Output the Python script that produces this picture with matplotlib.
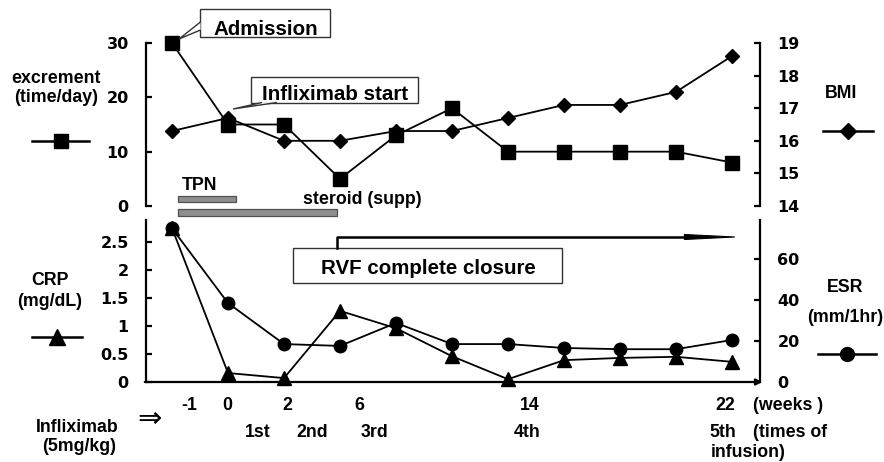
import matplotlib
matplotlib.use('Agg')
import matplotlib.pyplot as plt
from matplotlib.lines import Line2D
from matplotlib.patches import Rectangle, Polygon
import matplotlib.transforms as mtrans

plt.rcParams['font.family'] = ['Liberation Sans', 'DejaVu Sans']
plt.rcParams['font.weight'] = 'bold'

# ---------------- data ----------------
visits = list(range(11))
excrement = [30, 15, 15, 5, 13, 18, 10, 10, 10, 10, 8]
bmi = [16.3, 16.7, 16.0, 16.0, 16.3, 16.3, 16.7, 17.1, 17.1, 17.5, 18.6]
crp = [2.75, 0.16, 0.07, 1.27, 0.96, 0.46, 0.05, 0.39, 0.43, 0.45, 0.36]
esr = [75, 38.5, 18.5, 17.6, 28.8, 18.5, 18.5, 16.6, 16, 16, 20.5]
tpn_span = (0.1, 1.15)
steroid_span = (0.1, 2.95)
rvf_span = (2.95, 10.05)
exc_ticks = [0, 10, 20, 30]
bmi_ticks = [14, 15, 16, 17, 18, 19]
crp_ticks = [0, 0.5, 1, 1.5, 2, 2.5]
crp_ticklabels = ['0', '0.5', '1', '1.5', '2', '2.5']
esr_ticks = [0, 20, 40, 60]
week_labels = ['-1', '0', '2', '6', '14', '22']
infusion_labels = ['1st', '2nd', '3rd', '4th', '5th']

W, H = 884, 462
fig = plt.figure(figsize=(W / 100, H / 100), dpi=100)
pix = mtrans.Affine2D().scale(1 / W, -1 / H).translate(0, 1) + fig.transFigure

def ax_rect(l, t, r, b):
    return [l / W, 1 - b / H, (r - l) / W, (b - t) / H]

xlim = ((146 - 172) / 56, (760 - 172) / 56)
LW_AX = 1.6
TICKFS = 11.5

def style(ax, side):
    for s in ['top', 'bottom', 'left', 'right']:
        ax.spines[s].set_visible(False)
    ax.spines[side].set_visible(True)
    ax.spines[side].set_linewidth(LW_AX)
    ax.tick_params(axis='y', direction='in', length=4.5, width=LW_AX, pad=12.5,
                   labelsize=TICKFS)
    ax.tick_params(axis='x', bottom=False, labelbottom=False)

def fix_ticklabels(ax):
    for lab in ax.get_yticklabels():
        lab.set_fontweight('bold')
        lab.set_family(['DejaVu Sans'])

# ---------------- top panel ----------------
ax1 = fig.add_axes(ax_rect(146, 43, 760, 206))
ax1r = ax1.twinx()
ax1.set_xlim(*xlim)
ax1.set_ylim(0, 30)
ax1r.set_ylim(14, 19)
ax1.set_yticks(exc_ticks)
ax1r.set_yticks(bmi_ticks)
style(ax1, 'left')
style(ax1r, 'right')
fix_ticklabels(ax1)
fix_ticklabels(ax1r)
ax1.patch.set_visible(False)
ax1r.plot(visits, bmi, color='black', lw=1.3, marker='D', ms=7, mfc='black',
          mec='black', zorder=3, clip_on=False)
ax1.plot(visits, excrement, color='black', lw=1.3, marker='s', ms=9.5,
         mfc='black', mec='black', zorder=4, clip_on=False)
ax1.set_zorder(ax1r.get_zorder() + 1)

# ---------------- bottom panel ----------------
ax2 = fig.add_axes(ax_rect(146, 220, 760, 382))
ax2r = ax2.twinx()
ax2.set_xlim(*xlim)
ax2.set_ylim(0, (382 - 220) / 56)
ax2r.set_ylim(0, (382 - 220) / 2.05)
ax2.set_yticks(crp_ticks)
ax2.set_yticklabels(crp_ticklabels)
ax2r.set_yticks(esr_ticks)
style(ax2, 'left')
style(ax2r, 'right')
fix_ticklabels(ax2)
fix_ticklabels(ax2r)
ax2.patch.set_visible(False)
ax2r.plot(visits, esr, color='black', lw=1.3, marker='o', ms=9, mfc='black',
          mec='black', zorder=3, clip_on=False)
ax2.plot(visits, crp, color='black', lw=1.3, marker='^', ms=10.5, mfc='black',
         mec='black', zorder=4, clip_on=False)
ax2.set_zorder(ax2r.get_zorder() + 1)
# x axis with arrow
ax2.annotate('', xy=(1.004, 0), xytext=(-0.002, 0), xycoords='axes fraction',
             arrowprops=dict(arrowstyle='-|>', lw=LW_AX, color='black',
                             mutation_scale=9, shrinkA=0, shrinkB=0))

# ---------------- therapy bars ----------------
bt = mtrans.blended_transform_factory(ax1.transData, pix)
for span, (y0, y1) in [(tpn_span, (196, 202)), (steroid_span, (209, 216))]:
    r = Rectangle((span[0], y0), span[1] - span[0], y1 - y0, transform=bt,
                  facecolor='#8e8e8e', edgecolor='#505050', lw=0.9, clip_on=False)
    fig.add_artist(r)

LFS = 12.8
def t(x, y, s, ha='center', fs=LFS, **kw):
    fig.text(x, y, s, transform=pix, fontsize=fs, fontweight='bold', ha=ha,
             va='baseline', **kw)

t(182, 190, 'TPN', ha='left')
t(303, 204, 'steroid (supp)', ha='left')

# ---------------- RVF bracket ----------------
bt2 = mtrans.blended_transform_factory(ax2.transData, pix)
fig.add_artist(Line2D([rvf_span[0], rvf_span[0], rvf_span[1] - 0.8],
                      [248, 237, 237], transform=bt2, color='black', lw=1.8))
fig.add_artist(Polygon([[rvf_span[1] - 0.9, 234.5], [rvf_span[1], 237],
                        [rvf_span[1] - 0.9, 239.5]], closed=True, transform=bt2,
                       facecolor='black', edgecolor='black', lw=0.8))
fig.add_artist(Rectangle((293, 248), 269, 35, transform=pix, facecolor='white',
                         edgecolor='#333333', lw=1.0))
t(428, 274, 'RVF complete closure', fs=14.8)

# ---------------- callouts ----------------
fig.add_artist(Rectangle((200, 9), 130, 28, transform=pix, facecolor='white',
                         edgecolor='#333333', lw=1.0, zorder=5))
fig.add_artist(Polygon([[200.5, 22], [179, 39], [200.5, 30]], closed=False,
                       transform=pix, facecolor='white', edgecolor='#333333',
                       lw=1.0, zorder=6))
t(266, 35, 'Admission', fs=14.8, zorder=7)

fig.add_artist(Rectangle((251, 77), 167, 26, transform=pix, facecolor='white',
                         edgecolor='#333333', lw=1.0, zorder=5))
fig.add_artist(Polygon([[262, 102.5], [233, 109], [277, 102.5]], closed=False,
                       transform=pix, facecolor='white', edgecolor='#333333',
                       lw=1.0, zorder=6))
t(335, 100, 'Infliximab start', fs=14.8, zorder=7)

# ---------------- axis titles & legend samples ----------------
t(56, 83, 'excrement')
t(56, 102, '(time/day)')
t(841, 98, 'BMI')
t(50, 285, 'CRP')
t(50, 306, '(mg/dL)')
t(845, 292, 'ESR')
t(845, 322, '(mm/1hr)')
t(77, 432, 'Infliximab')
t(79, 451, '(5mg/kg)')
fig.text(150, 419, '\u21d2', transform=pix, fontsize=21, ha='center',
         va='center', family=['DejaVu Sans'], fontweight='normal')

def sample(x0, x1, y, marker, ms):
    fig.add_artist(Line2D([x0, (x0 + x1) / 2, x1], [y, y, y], transform=pix,
                          color='black', lw=1.8, marker=marker, ms=ms,
                          markevery=[1], mfc='black', mec='black'))

sample(32, 89, 141, 's', 10)
sample(823, 873, 131, 'D', 8)
sample(32, 82, 337, '^', 11)
sample(818, 876, 354, 'o', 10)

# ---------------- time labels ----------------
week_x = [189, 227, 287, 359, 530, 725]
for s, x in zip(week_labels, week_x):
    t(x, 410, s)
t(753, 410, '(weeks )', ha='left')
inf_x = [258, 312, 375, 527, 723]
for s, x in zip(infusion_labels, inf_x):
    t(x, 437, s)
t(753, 437, '(times of', ha='left')
t(711, 457, 'infusion)', ha='left')

fig.savefig('out.png', dpi=100)
